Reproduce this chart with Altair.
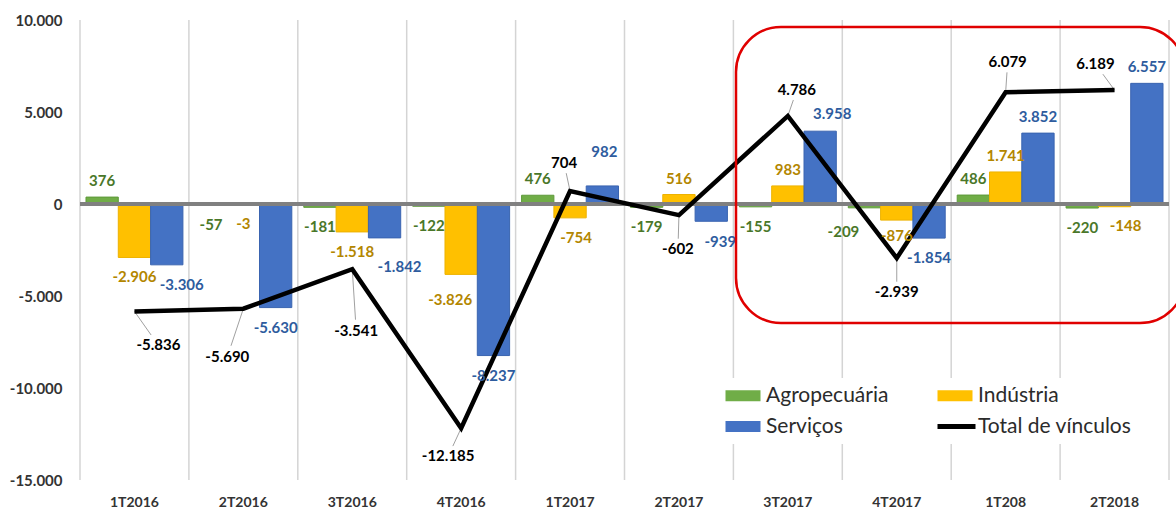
import altair as alt
import pandas as pd

periodos = ["1T2016", "2T2016", "3T2016", "4T2016", "1T2017", "2T2017",
            "3T2017", "4T2017", "1T208", "2T2018"]
agropecuaria = [376, -57, -181, -122, 476, -179, -155, -209, 486, -220]
industria = [-2906, -3, -1518, -3826, -754, 516, 983, -876, 1741, -148]
servicos = [-3306, -5630, -1842, -8237, 982, -939, 3958, -1854, 3852, 6557]
total = [-5836, -5690, -3541, -12185, 704, -602, 4786, -2939, 6079, 6189]
y_ticks = [-15000, -10000, -5000, 0, 5000, 10000]

series = ["Agropecuária", "Indústria", "Serviços", "Total de vínculos"]
legend_order = ["Agropecuária", "Serviços", "Indústria", "Total de vínculos"]
fill_colors = {"Agropecuária": "#70AD47", "Indústria": "#FFC000",
               "Serviços": "#4472C4", "Total de vínculos": "#000000"}
stroke_colors = ["#5E9A3A", "#EDB200", "#3A64B0"]
label_colors = ["#4A7729", "#B38600", "#2E5C9E"]

# label placement (pixels, relative to bar end / line point), as in the original
BAR_DY_POS, BAR_DY_NEG = -16, 20
bar_label_nudge = {
    ("Agropecuária", "4T2017"): (-21, 24),
    ("Indústria", "4T2016"): (-11, 26),
    ("Indústria", "1T2017"): (6, 20),
    ("Indústria", "4T2017"): (0, 16),
    ("Indústria", "2T2018"): (11, 19),
    ("Serviços", "1T2016"): (15, 20),
    ("Serviços", "3T2016"): (15, 29),
    ("Serviços", "1T2017"): (2, -34),
    ("Serviços", "2T2017"): (9, 21),
    ("Serviços", "3T2017"): (12, -17),
}
total_label_dx = [24, -16, 4, -13, -6, -1, 9, 0, 2, -19]
total_label_dy = [34, 48, 62, 28, -28, 34, -26, 34, -30, -26]


def fmt(v):
    return f"{v:,}".replace(",", ".")


rows = []
for s, vals in zip(series[:3], [agropecuaria, industria, servicos]):
    for p, v in zip(periodos, vals):
        dx, dy = bar_label_nudge.get((s, p), (0, BAR_DY_POS if v >= 0 else BAR_DY_NEG))
        rows.append({"periodo": p, "serie": s, "valor": v, "rotulo": fmt(v),
                     "dx": dx, "dy": dy})
bars_df = pd.DataFrame(rows)

trows = []
for p, v, dx, dy in zip(periodos, total, total_label_dx, total_label_dy):
    t_box = min(22 / abs(dx) if dx else 99, 9 / abs(dy) if dy else 99)
    t_end = max(0.0, 1 - t_box - 0.04)
    trows.append({"periodo": p, "total": v, "rotulo": fmt(v), "dx": dx, "dy": dy,
                  "lx2": dx * t_end, "ly2": dy * t_end})
total_df = pd.DataFrame(trows)
per_df = pd.DataFrame({"periodo": periodos})
legend_df = pd.DataFrame({"serie": series})

FONT = "Lato"
AX_COLOR = "#333333"
W, H = 1089, 460
PAD_IN, PAD_OUT = 0.11, 0.055
half_gap = PAD_IN * W / len(periodos) / 2

xscale = alt.Scale(domain=periodos, paddingInner=PAD_IN, paddingOuter=PAD_OUT)
xaxis = alt.Axis(labelFont=FONT, labelFontSize=14, labelFontWeight="bold",
                 labelColor=AX_COLOR, labelPadding=15, labelAngle=0,
                 domain=False, ticks=False, grid=False, title=None)
yscale = alt.Scale(domain=[-15000, 10000], nice=False, zero=False)
yaxis = alt.Axis(values=y_ticks, labelFont=FONT, labelFontSize=15,
                 labelFontWeight="bold", labelColor=AX_COLOR, labelPadding=18,
                 domain=False, ticks=False, grid=False, title=None,
                 labelExpr="replace(replace(format(datum.value, ','), ',', '.'), '\u2212', '-')")


def X(**kw):
    return alt.X("periodo:N", sort=periodos, scale=xscale, axis=xaxis, title=None, **kw)


def Y(field):
    return alt.Y(field, scale=yscale, axis=yaxis, title=None)


xoff = alt.XOffset("serie:N", sort=series[:3],
                   scale=alt.Scale(domain=series[:3], paddingInner=0, paddingOuter=0))

rect_path = "M-1,-0.55H2.5V0.55H-1Z"
line_path = "M-1,-0.24H2.8V0.24H-1Z"
shape_range = [line_path if s == "Total de vínculos" else rect_path for s in legend_order]

legend = alt.Legend(title=None, orient="none", legendX=638, legendY=358,
                    columns=2, columnPadding=48, rowPadding=9, padding=7,
                    fillColor="white", labelFont=FONT, labelFontSize=21,
                    labelColor="#2B2B2B", labelOffset=20, symbolSize=400,
                    symbolStrokeWidth=0, labelLimit=300)
color_scale = alt.Scale(domain=legend_order, range=[fill_colors[s] for s in legend_order])

grid0 = alt.Chart(per_df).mark_rule(color="#D4D4D4", strokeWidth=1.5, xOffset=-half_gap).encode(
    x=X(bandPosition=0))
grid1 = alt.Chart(per_df).transform_filter(
    alt.datum.periodo == periodos[-1]).mark_rule(
    color="#D4D4D4", strokeWidth=1.5, xOffset=half_gap).encode(x=X(bandPosition=1))

bars = alt.Chart(bars_df).mark_bar(opacity=1, strokeWidth=1).encode(
    x=X(), xOffset=xoff, y=Y("valor:Q"),
    color=alt.Color("serie:N", scale=color_scale, legend=legend),
    stroke=alt.Stroke("serie:N", scale=alt.Scale(domain=series[:3], range=stroke_colors), legend=None),
)

zero_df = pd.DataFrame({"zero": [0]})
zero = alt.Chart(zero_df).mark_rule(color="#808080", strokeWidth=4).encode(y=Y("zero:Q"))

line = alt.Chart(total_df).mark_line(color="black", strokeWidth=4.5, strokeJoin="miter").encode(
    x=X(), y=Y("total:Q"))

label_fill = alt.Fill("serie:N", scale=alt.Scale(domain=series[:3], range=label_colors), legend=None)

bar_labels = alt.Chart(bars_df).mark_text(
    font=FONT, fontSize=15, fontWeight="bold", baseline="middle",
    dx=alt.expr("datum.dx"), dy=alt.expr("datum.dy")).encode(
    x=X(), xOffset=xoff, y=Y("valor:Q"), text="rotulo:N", fill=label_fill)

leaders = alt.Chart(total_df).mark_rule(
    color="#A0A0A0", strokeWidth=1,
    x2Offset=alt.expr("datum.lx2"), y2Offset=alt.expr("datum.ly2")).encode(
    x=X(), x2="periodo:N", y=Y("total:Q"), y2="total:Q")

total_labels = alt.Chart(total_df).mark_text(
    font=FONT, fontSize=15, fontWeight="bold", baseline="middle", color="black",
    dx=alt.expr("datum.dx"), dy=alt.expr("datum.dy")).encode(
    x=X(), y=Y("total:Q"), text="rotulo:N")

legend_layer = alt.Chart(legend_df).transform_filter("false").mark_point(
    filled=True, opacity=1, size=400).encode(
    color=alt.Color("serie:N", scale=color_scale, legend=legend),
    shape=alt.Shape("serie:N", scale=alt.Scale(domain=legend_order, range=shape_range),
                    legend=legend),
)

highlight = alt.Chart(zero_df).mark_rect(
    filled=False, stroke="#E00000", strokeWidth=2.5, cornerRadius=45).encode(
    x=alt.value(656), x2=alt.value(1105), y=alt.value(7), y2=alt.value(303))

chart = alt.layer(
    grid0, grid1, bars, zero, leaders, line, bar_labels, total_labels, highlight, legend_layer
).properties(
    width=W, height=H,
    padding={"left": 80, "top": 20, "right": 7, "bottom": 29},
    autosize=alt.AutoSizeParams(type="none"),
).configure_view(stroke=None)

chart.save("out.html", embed_options={"renderer": "svg", "actions": False})
